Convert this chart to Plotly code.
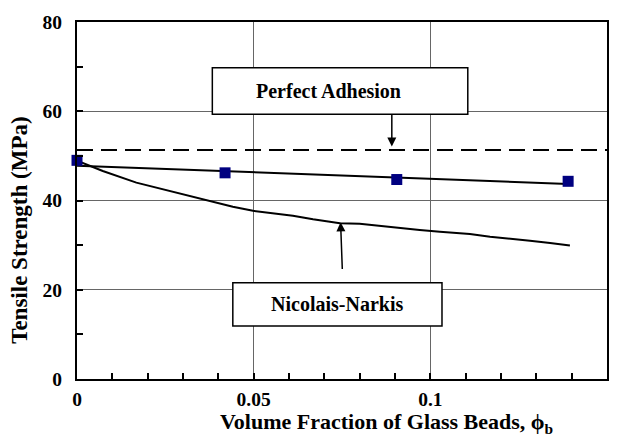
import plotly.graph_objects as go

# Measured tensile strength vs. glass-bead volume fraction
phi_meas = [0.0, 0.0419, 0.0905, 0.139]
strength_meas = [49.0, 46.2, 44.7, 44.3]

# Linear trend through the measured data
fit_phi = [0.0, 0.139]
fit_strength = [47.8, 43.7]

# Nicolais-Narkis prediction
nn_phi = [0.0, 0.0073, 0.0168, 0.0262, 0.0347, 0.0404, 0.0441, 0.0498, 0.0555,
          0.0611, 0.0668, 0.0744, 0.0800, 0.0857, 0.0914, 0.0970, 0.1027, 0.1112,
          0.1169, 0.1225, 0.1282, 0.1339, 0.1395]
nn_strength = [48.9, 46.6, 44.0, 42.1, 40.5, 39.3, 38.6, 37.7, 37.1,
               36.6, 35.8, 34.9, 34.8, 34.3, 33.9, 33.4, 33.0, 32.5,
               31.9, 31.5, 31.0, 30.5, 29.9]

# Perfect-adhesion level
perfect_phi = [0.0, 0.15]
perfect_strength = [51.3, 51.3]

x_ticks = [0, 0.05, 0.1, 0.15]
x_tick_text = ["0", "0.05", "0.1", "0.15"]
y_ticks = [0, 20, 40, 60, 80]
y_tick_text = ["0", "20", "40", "60", "80"]

FONT = "Liberation Serif, Times New Roman, serif"

# Plot-area geometry in pixels
W, H = 622, 442
ML, MR, MT, MB = 77, 15, 20, 63
PW, PH = W - ML - MR, H - MT - MB


def px_to_paper(px, py):
    """Pixel position (from top-left) to paper fractions of the plot area."""
    return (px - ML) / PW, (H - MB - py) / PH


fig = go.Figure()

fig.add_trace(go.Scatter(
    x=perfect_phi, y=perfect_strength, mode="lines",
    line=dict(color="black", width=2, dash="16px,8px"),
    showlegend=False, hoverinfo="skip"))

fig.add_trace(go.Scatter(
    x=nn_phi, y=nn_strength, mode="lines",
    line=dict(color="black", width=2),
    showlegend=False))

fig.add_trace(go.Scatter(
    x=fit_phi, y=fit_strength, mode="lines",
    line=dict(color="black", width=2),
    showlegend=False))

fig.add_trace(go.Scatter(
    x=phi_meas, y=strength_meas, mode="markers",
    marker=dict(symbol="square", size=11, color="#000080",
                line=dict(width=0)),
    showlegend=False, cliponaxis=False))

# Label boxes
fig.add_shape(type="rect", xref="x", yref="y",
              x0=0.0383, x1=0.1106, y0=59.3, y1=69.75,
              line=dict(color="black", width=1.5), fillcolor="white",
              layer="above")
fig.add_shape(type="rect", xref="x", yref="y",
              x0=0.0441, x1=0.1033, y0=11.88, y1=21.55,
              line=dict(color="black", width=1.5), fillcolor="white",
              layer="above")

fig.add_annotation(x=0.0713, y=64.6, xref="x", yref="y",
                   text="<b>Perfect Adhesion</b>", showarrow=False,
                   xanchor="center", yanchor="middle",
                   font=dict(family=FONT, size=20, color="black"))
fig.add_annotation(x=0.0737, y=16.8, xref="x", yref="y",
                   text="<b>Nicolais-Narkis</b>", showarrow=False,
                   xanchor="center", yanchor="middle",
                   font=dict(family=FONT, size=20, color="black"))

# Pointer arrows
fig.add_annotation(x=0.0891, y=52.1, ax=0.0891, ay=59.6,
                   xref="x", yref="y", axref="x", ayref="y",
                   text="", showarrow=True, arrowhead=2, arrowsize=1.2,
                   arrowwidth=1.5, arrowcolor="black")
fig.add_annotation(x=0.0746, y=35.1, ax=0.0751, ay=24.3,
                   xref="x", yref="y", axref="x", ayref="y",
                   text="", showarrow=True, arrowhead=2, arrowsize=1.2,
                   arrowwidth=1.5, arrowcolor="black")

# Axis titles
tx, ty = px_to_paper(386, 423)
fig.add_annotation(x=tx, y=ty, xref="paper", yref="paper",
                   xanchor="center", yanchor="middle",
                   text="<b>Volume Fraction of Glass Beads, \u03d5<sub>b</sub></b>",
                   showarrow=False,
                   font=dict(family=FONT, size=22, color="black"))
tx, ty = px_to_paper(20, 230)
fig.add_annotation(x=tx, y=ty, xref="paper", yref="paper",
                   xanchor="center", yanchor="middle",
                   text="<b>Tensile Strength (MPa)</b>", textangle=-90,
                   showarrow=False,
                   font=dict(family=FONT, size=23, color="black"))

tick_font = dict(family=FONT, size=19.5, color="black")

fig.update_xaxes(
    range=[0, 0.15], tickvals=x_ticks, ticktext=[f"<b>{t}</b>" for t in x_tick_text],
    ticks="inside", ticklen=6, tickwidth=1.5, tickcolor="black",
    minor=dict(dtick=0.01, ticks="inside", ticklen=6, tickwidth=1.5,
               tickcolor="black", showgrid=False),
    showline=True, linecolor="black", linewidth=2, mirror=True,
    showgrid=True, gridcolor="#666666", gridwidth=1, zeroline=False,
    tickfont=tick_font, ticklabelstandoff=2)

fig.update_yaxes(
    range=[0, 80], tickvals=y_ticks, ticktext=[f"<b>{t}</b>" for t in y_tick_text],
    ticks="inside", ticklen=6, tickwidth=1.5, tickcolor="black",
    minor=dict(dtick=10, ticks="inside", ticklen=6, tickwidth=1.5,
               tickcolor="black", showgrid=False),
    showline=True, linecolor="black", linewidth=2, mirror=True,
    showgrid=True, gridcolor="#666666", gridwidth=1, zeroline=False,
    tickfont=tick_font, ticklabelstandoff=9)

fig.update_layout(
    width=W, height=H,
    margin=dict(l=ML, r=MR, t=MT, b=MB),
    paper_bgcolor="white", plot_bgcolor="white",
    font=dict(family=FONT, color="black"))

fig.write_html("out.html")
